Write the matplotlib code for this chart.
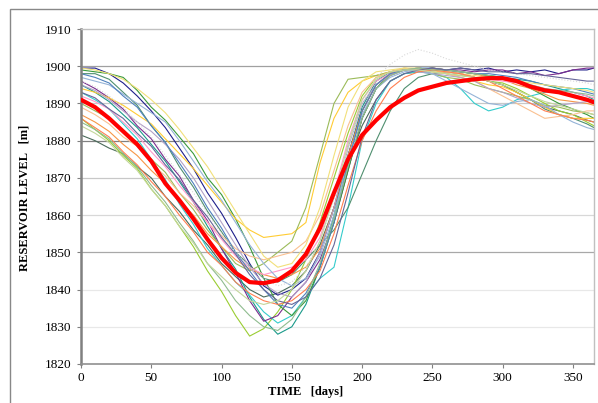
import matplotlib
matplotlib.use("Agg")
import matplotlib.pyplot as plt
from matplotlib.patches import Rectangle
import numpy as np

plt.rcParams['font.family'] = ['Liberation Serif', 'DejaVu Serif']

days = [0, 10, 20, 30, 40, 50, 60, 70, 80, 90, 100, 110, 120, 130, 140, 150, 160, 170, 180,
        190, 200, 210, 220, 230, 240, 250, 260, 270, 280, 290, 300, 310, 320, 330, 340, 350, 360, 365]

# red reference curve
level_ref = [1891, 1889, 1886, 1882.5, 1879, 1874.5, 1868.5, 1864, 1859, 1853.5, 1848.5, 1844.5, 1842, 1841.7,
             1842.5, 1845, 1849.5, 1856.5, 1866, 1875, 1881.5, 1885.5, 1889, 1891.5, 1893.5, 1894.5, 1895.5,
             1896, 1896.5, 1896.8, 1896.8, 1896, 1894.5, 1893.5, 1893, 1892, 1891, 1890.3]

# individual years (thin lines)
years = [
    [1881.5, 1880, 1878, 1876.5, 1873, 1870, 1865, 1861, 1856, 1852, 1847, 1843.5, 1840, 1838, 1839, 1841, 1845, 1852, 1862, 1874, 1884, 1891, 1896, 1898, 1898.5, 1899, 1898.5, 1898, 1897, 1896, 1895, 1893, 1891, 1889, 1888, 1887, 1885.5, 1885],
    [1886, 1883, 1880, 1876, 1872.5, 1867, 1862.5, 1857, 1851.5, 1845, 1839.5, 1833, 1827.5, 1829.5, 1834, 1840, 1848, 1858, 1870, 1882, 1892, 1897, 1898.5, 1899, 1899, 1898.5, 1898, 1897.5, 1897, 1896, 1895.5, 1894, 1892, 1890, 1888, 1887, 1885, 1884],
    [1895, 1893, 1890.5, 1887, 1883.5, 1879, 1874.5, 1869, 1863.5, 1857, 1851, 1845.5, 1838, 1832, 1828, 1830, 1836, 1846, 1860, 1876, 1889, 1896, 1898.5, 1899, 1899.5, 1899, 1899, 1898.5, 1898, 1897.5, 1897, 1896.5, 1896, 1895, 1894, 1893, 1892, 1891],
    [1893, 1891, 1888.5, 1884.5, 1880.5, 1875, 1869.5, 1863, 1857.5, 1851, 1846.5, 1842, 1838.5, 1834, 1831, 1833, 1838, 1843, 1846, 1862, 1880, 1890, 1896, 1898, 1898.5, 1898, 1897, 1894, 1890, 1888, 1889, 1891, 1892, 1893, 1893.5, 1894, 1894, 1893.5],
    [1899.5, 1899.5, 1898, 1895.5, 1892, 1888, 1883.5, 1878, 1872.5, 1866, 1860.5, 1854, 1847, 1841, 1838.5, 1840, 1843, 1850, 1862, 1876, 1888, 1895, 1898, 1899, 1899.5, 1899, 1899, 1899.5, 1899, 1899.5, 1898.5, 1899, 1898.5, 1899, 1898, 1899, 1899, 1899.5],
    [1896, 1894, 1891.5, 1888.5, 1884, 1880.5, 1875, 1870.5, 1864, 1858.5, 1851, 1844.5, 1837, 1831.5, 1833, 1838, 1842, 1848, 1858, 1872, 1886, 1894, 1897.5, 1899, 1899, 1899.5, 1899, 1899, 1898.5, 1899, 1899, 1898, 1898.5, 1897.5, 1898, 1899, 1899.5, 1899.5],
    [1899, 1898.5, 1898, 1897, 1893.5, 1889, 1885.5, 1881, 1876.5, 1870, 1865.5, 1859, 1851.5, 1843, 1836, 1833, 1837, 1846, 1858, 1872, 1886, 1894, 1898, 1899, 1899, 1899.5, 1899, 1898.5, 1898, 1897.5, 1897, 1896, 1894, 1892, 1890, 1888.5, 1887, 1886],
    [1898, 1898, 1896.5, 1893, 1889.5, 1884, 1879.5, 1873, 1867.5, 1861, 1855.5, 1850, 1846.5, 1843, 1842, 1844, 1848, 1852, 1856, 1862, 1871, 1880, 1888, 1894, 1897, 1898, 1898.5, 1898, 1897, 1896, 1895, 1893, 1891, 1888.5, 1887, 1886, 1884.5, 1883.5],
    [1894, 1893, 1891.5, 1889.5, 1887, 1884.5, 1880.5, 1876.5, 1872.5, 1868, 1863.5, 1859, 1856, 1854, 1854.5, 1855, 1858, 1874, 1886, 1893, 1896, 1897.5, 1898.5, 1899, 1899.5, 1899, 1898, 1897, 1896, 1895, 1894.5, 1893, 1891, 1889, 1887, 1886, 1886, 1886],
    [1890, 1888, 1886, 1882.5, 1879.5, 1875, 1871.5, 1866, 1861.5, 1856, 1851.5, 1847, 1845, 1847, 1850, 1853, 1862, 1876, 1890, 1896.5, 1897, 1897.5, 1898.5, 1899.5, 1899, 1898, 1897, 1896.5, 1895, 1894, 1893, 1892, 1891, 1889.5, 1889, 1888, 1887.5, 1887],
    [1889, 1887, 1884.5, 1881, 1878.5, 1874, 1870.5, 1866, 1862.5, 1858, 1854.5, 1851, 1849, 1848, 1849, 1850, 1853, 1860, 1872, 1884, 1893, 1897, 1898.5, 1899.5, 1899, 1898.5, 1898, 1897, 1896, 1894, 1892, 1890, 1888, 1886, 1886.5, 1887, 1888, 1888],
    [1887, 1885, 1882.5, 1879, 1876, 1872, 1868.5, 1864, 1860, 1855, 1851.5, 1848, 1845.5, 1844, 1843, 1844, 1846, 1851, 1862, 1876, 1888, 1895, 1898, 1899, 1899, 1899.5, 1899, 1898.5, 1898, 1897, 1896.5, 1895, 1894, 1892.5, 1891, 1890.5, 1890, 1889.5],
    [1892, 1890.5, 1888.5, 1885, 1881.5, 1877, 1873, 1868, 1863.5, 1858, 1853.5, 1849, 1846, 1844, 1845, 1846, 1848, 1854, 1866, 1880, 1891, 1896, 1898, 1899, 1899.5, 1899, 1898.5, 1898, 1897, 1896.5, 1896, 1895.5, 1895, 1894, 1893.5, 1893, 1892, 1891.5],
    [1895, 1893.5, 1891, 1888, 1885, 1882.5, 1879, 1875, 1870, 1864, 1858, 1852, 1846, 1841.5, 1839, 1838, 1842, 1850, 1862, 1878, 1890, 1895, 1897.5, 1899, 1898.5, 1898, 1897.5, 1897, 1896, 1894, 1893, 1891.5, 1890, 1889, 1889.5, 1890, 1890.5, 1891],
    [1897, 1896, 1895, 1892.5, 1890, 1887.5, 1885, 1880, 1874.5, 1869, 1864, 1858, 1852, 1847, 1843, 1841, 1843, 1849, 1860, 1875, 1887, 1894, 1897, 1898.5, 1899, 1898, 1896, 1894, 1892, 1890, 1889.5, 1890.5, 1891, 1889.5, 1887, 1885, 1883.5, 1883],
    [1898, 1897, 1895.5, 1892, 1889, 1884, 1879.5, 1874, 1868.5, 1862, 1856.5, 1850, 1845, 1840, 1836, 1835, 1839, 1846, 1858, 1874, 1888, 1895, 1898, 1899, 1899.5, 1899.5, 1899, 1898.5, 1898, 1898, 1897.5, 1897, 1896, 1895, 1894.5, 1894, 1893, 1892.5],
    [1899.5, 1899, 1898, 1896.5, 1894, 1891, 1887.5, 1883, 1878, 1873, 1867, 1861, 1855, 1849, 1846, 1847, 1852, 1862, 1876, 1889, 1896, 1898.5, 1899, 1899.5, 1899.5, 1899, 1898.5, 1898, 1897.5, 1897, 1896.5, 1896, 1895.5, 1895, 1894.5, 1894, 1893.5, 1893],
    [1886, 1883.5, 1881, 1877, 1873.5, 1869, 1865, 1860, 1855.5, 1850, 1846.5, 1842, 1839, 1837, 1836, 1837, 1840, 1845, 1855, 1868, 1880, 1888, 1894, 1897, 1898.5, 1899, 1898.5, 1898, 1897, 1896, 1894, 1892, 1890, 1888, 1887, 1886, 1885.5, 1885],
    [1885, 1883, 1880.5, 1876.5, 1873, 1868, 1863.5, 1858, 1853, 1847, 1842.5, 1837, 1833, 1830, 1829, 1832, 1838, 1847, 1859, 1873, 1886, 1894, 1897.5, 1899, 1899.5, 1899, 1899, 1898.5, 1898, 1897.5, 1897, 1896, 1895, 1894, 1893.5, 1893, 1892.5, 1892],
    [1896, 1894.5, 1892, 1889, 1885, 1881, 1876, 1871, 1866, 1860.5, 1855, 1850, 1846, 1843, 1841, 1842, 1846, 1853, 1864, 1878, 1890, 1897, 1900.5, 1903, 1904.5, 1903.5, 1902, 1901, 1900, 1899, 1898.5, 1898, 1897.5, 1897, 1896.5, 1896, 1895.5, 1895],
    [1893, 1891.5, 1888.5, 1886, 1882, 1878.5, 1873.5, 1869.5, 1864, 1859.5, 1854, 1849.5, 1844, 1840, 1837, 1836, 1838, 1843, 1852, 1866, 1881, 1891, 1896, 1898, 1899, 1899.5, 1899, 1899.5, 1899, 1898.5, 1898.5, 1898, 1898, 1897.5, 1897, 1896.5, 1896, 1896],
    [1884, 1882, 1879.5, 1875.5, 1872, 1867, 1862.5, 1857, 1852.5, 1847, 1843.5, 1840, 1837, 1836, 1837, 1840, 1845, 1853, 1865, 1879, 1891, 1896.5, 1898.5, 1899, 1899, 1898.5, 1898, 1897.5, 1897, 1896, 1895, 1893.5, 1892, 1890.5, 1889.5, 1888.5, 1887.5, 1887],
]
year_colors = ['#4a6a5a', '#9acd32', '#1a9a8a', '#33cccc', '#1f1f8a', '#7b2d8e', '#3a9a3a', '#4f8f6f',
               '#ffcc33', '#9bbb59', '#fac090', '#f79646', '#ff99cc', '#b3a2c7', '#95b3d7', '#4f81bd',
               '#f2e07a', '#ff7f50', '#8fbc8f', '#d9d9d9', '#666699', '#c3d69b']

y_ticks = [1820, 1830, 1840, 1850, 1860, 1870, 1880, 1890, 1900, 1910]
grid_colors = ['#808080', '#e8e8e8', '#e8e8e8', '#a8a8a8', '#d8d8d8', '#c8c8c8', '#808080', '#c8c8c8', '#a0a0a0', '#c0c0c0']
x_ticks = [0, 50, 100, 150, 200, 250, 300, 350]

fig = plt.figure(figsize=(5.98, 4.03), dpi=100)
fig.patches.append(Rectangle((10 / 598, -0.2), 1.5, 1.2 - 9 / 403, transform=fig.transFigure,
                             fill=False, edgecolor='#888888', lw=1.0))
ax = fig.add_axes([81 / 598, 1 - 364 / 403, 513 / 598, 335 / 403])

for yv, gc in zip(y_ticks[1:-1], grid_colors[1:-1]):
    ax.axhline(yv, color=gc, lw=0.9, zorder=0)

for vals, c in zip(years, year_colors):
    ls = ':' if c == '#d9d9d9' else '-'
    ax.plot(days, vals, color=c, lw=0.8, ls=ls, zorder=2)
ax.plot(days, level_ref, color='#ff0000', lw=3.0, zorder=3, solid_capstyle='round')

ax.set_xlim(0, 365)
ax.set_ylim(1820, 1910)
ax.set_xticks(x_ticks)
ax.set_yticks(y_ticks)
ax.tick_params(axis='both', labelsize=9.5, length=3, width=0.8, color='#808080', direction='out')
ax.tick_params(axis='y', pad=4)
ax.tick_params(axis='x', pad=3)
for side in ['top', 'right']:
    ax.spines[side].set_color('#c0c0c0')
    ax.spines[side].set_linewidth(1.0)
ax.spines['left'].set_color('#808080')
ax.spines['left'].set_linewidth(1.8)
ax.spines['bottom'].set_color('#909090')
ax.spines['bottom'].set_linewidth(1.2)

fig.text(25 / 598, 1 - 198 / 403, 'RESERVOIR LEVEL   [m]', rotation=90, ha='center', va='center',
         fontsize=9, fontweight='bold')
fig.text(306 / 598, 1 - 392 / 403, 'TIME   [days]', ha='center', va='center',
         fontsize=9, fontweight='bold')

fig.savefig('out.png', dpi=100)
